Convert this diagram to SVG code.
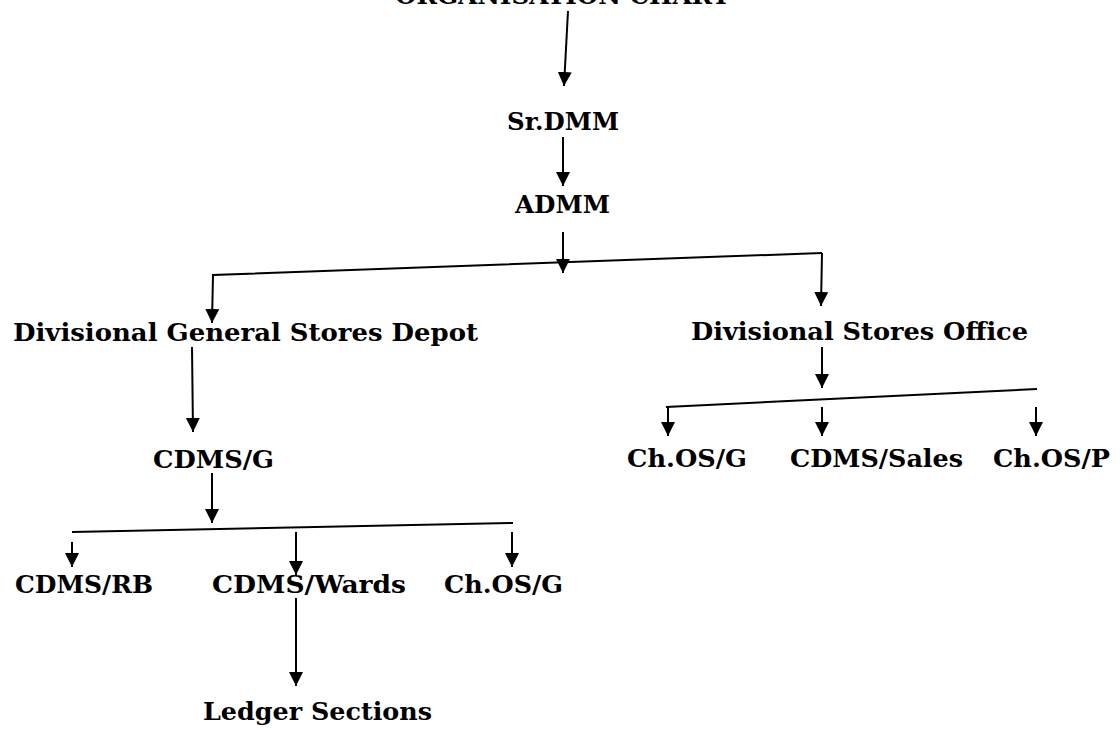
<svg xmlns="http://www.w3.org/2000/svg" width="1120" height="732" viewBox="0 0 1120 732">
<style>
text{font-family:"DejaVu Serif Condensed","DejaVu Serif","Liberation Serif",serif;font-stretch:condensed;font-weight:bold;font-size:25px;fill:#000}
.c{fill:none;stroke:#000;stroke-width:2}
.a{marker-end:url(#ah)}
</style>
<defs>
<marker id="ah" viewBox="0 0 10 10" refX="10" refY="5" markerWidth="14" markerHeight="15" markerUnits="userSpaceOnUse" orient="auto">
<path d="M0,0 L10,5 L0,10 z" fill="#000"/>
</marker>
</defs>
<g id="title"><text x="395" y="4" textLength="335" lengthAdjust="spacingAndGlyphs">ORGANISATION CHART</text></g>
<g id="srdmm"><text x="507" y="130" textLength="112" lengthAdjust="spacingAndGlyphs">Sr.DMM</text></g>
<g id="admm"><text x="515" y="213" textLength="95" lengthAdjust="spacingAndGlyphs">ADMM</text></g>
<g id="dgsd"><text x="13" y="341" textLength="465" lengthAdjust="spacingAndGlyphs">Divisional General Stores Depot</text></g>
<g id="dso"><text x="691" y="340" textLength="337" lengthAdjust="spacingAndGlyphs">Divisional Stores Office</text></g>
<g id="cdmsg"><text x="153" y="468" textLength="121" lengthAdjust="spacingAndGlyphs">CDMS/G</text></g>
<g id="cdmsrb"><text x="15" y="593" textLength="138" lengthAdjust="spacingAndGlyphs">CDMS/RB</text></g>
<g id="cdmswards"><text x="212" y="593" textLength="194" lengthAdjust="spacingAndGlyphs">CDMS/Wards</text></g>
<g id="chosg1"><text x="444" y="593" textLength="119" lengthAdjust="spacingAndGlyphs">Ch.OS/G</text></g>
<g id="chosg2"><text x="627" y="467" textLength="120" lengthAdjust="spacingAndGlyphs">Ch.OS/G</text></g>
<g id="cdmssales"><text x="790" y="467" textLength="173" lengthAdjust="spacingAndGlyphs">CDMS/Sales</text></g>
<g id="chosp"><text x="993" y="467" textLength="117" lengthAdjust="spacingAndGlyphs">Ch.OS/P</text></g>
<g id="ledger"><text x="203" y="720" textLength="229" lengthAdjust="spacingAndGlyphs">Ledger Sections</text></g>
<g id="connectors">
<path class="c a" d="M568,11 L564,86"/>
<path class="c a" d="M563,137 L563,186"/>
<path class="c a" d="M563,232 L563,273"/>
<path class="c a" d="M822,253 L213,275 L212,323"/>
<path class="c a" d="M822,253 L821,306"/>
<path class="c a" d="M192,347 L193,432"/>
<path class="c a" d="M212,473 L212,523"/>
<path class="c" d="M72,532 L513,523"/>
<path class="c a" d="M72,542 L72,567"/>
<path class="c a" d="M296,532 L296,575"/>
<path class="c a" d="M512,532 L512,567"/>
<path class="c a" d="M296,598 L296,686"/>
<path class="c a" d="M822,347 L822,388"/>
<path class="c" d="M666,407 L1037,389"/>
<path class="c a" d="M668,407 L668,436"/>
<path class="c a" d="M822,407 L822,436"/>
<path class="c a" d="M1036,407 L1036,436"/>
</g>
</svg>
